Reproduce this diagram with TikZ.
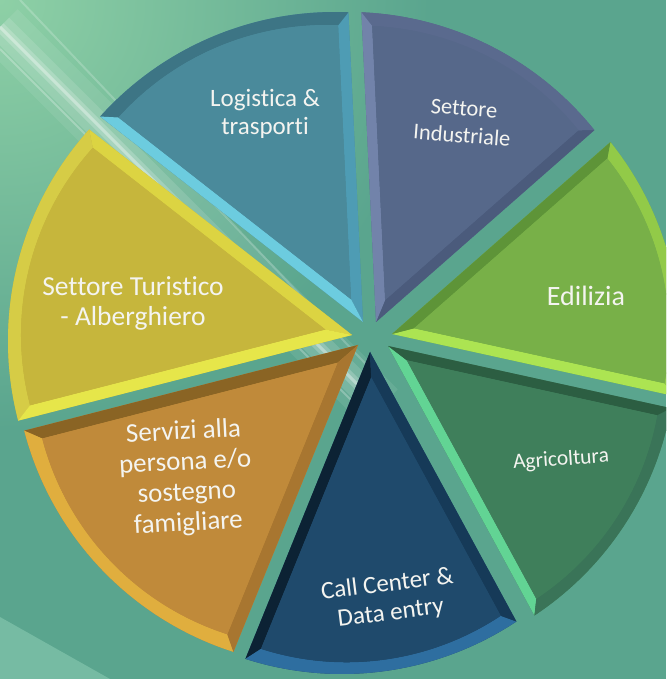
\documentclass[tikz,border=0pt]{standalone}
\usepackage{fontspec}
\setmainfont{Carlito}[Ligatures={NoCommon}]
\usetikzlibrary{calc}
\definecolor{bgbase}{HTML}{5AA58E}
\definecolor{bglight}{HTML}{8ED0A6}
\definecolor{bgcorner}{HTML}{76BBA3}
\definecolor{indface}{HTML}{56688A}
\definecolor{indA}{HTML}{4B5B7C}
\definecolor{indArc}{HTML}{5A6A8E}
\definecolor{indB}{HTML}{7283AA}
\definecolor{logface}{HTML}{4A8A9B}
\definecolor{logA}{HTML}{4E9CB4}
\definecolor{logArc}{HTML}{3D7585}
\definecolor{logB}{HTML}{6CCCDF}
\definecolor{turface}{HTML}{C6B63C}
\definecolor{turA}{HTML}{DCD442}
\definecolor{turArc}{HTML}{D6CC46}
\definecolor{turB}{HTML}{E6E64A}
\definecolor{serface}{HTML}{C08A3A}
\definecolor{serA}{HTML}{8A6424}
\definecolor{serArc}{HTML}{E0AE3E}
\definecolor{serB}{HTML}{A87630}
\definecolor{calface}{HTML}{1F4A6C}
\definecolor{calA}{HTML}{0C2234}
\definecolor{calArc}{HTML}{2E6EA0}
\definecolor{calB}{HTML}{163A58}
\definecolor{agrface}{HTML}{3F7F5B}
\definecolor{agrA}{HTML}{62D494}
\definecolor{agrArc}{HTML}{3A7458}
\definecolor{agrB}{HTML}{2C5E42}
\definecolor{ediface}{HTML}{78B048}
\definecolor{ediA}{HTML}{ACE452}
\definecolor{ediArc}{HTML}{92CA48}
\definecolor{ediB}{HTML}{5E9438}
\definecolor{txt}{HTML}{F4F4F0}
\def\R{316}
\def\s{0.885}
% #1 offx, #2 offy, #3 start angle, #4 end angle, #5 face, #6 edge at start, #7 arc, #8 edge at end
\newcommand\pieslice[8]{%
  \coordinate (A) at ($(H)+(#1,#2)$);
  \coordinate (O) at ($(Cc)+(#1,#2)$);
  \coordinate (P1) at ($(O)+(#3:\R pt)$);
  \coordinate (P2) at ($(O)+(#4:\R pt)$);
  \coordinate (Q) at ($(O)+({(#3+#4)/2}:\R pt)$);
  \coordinate (M) at ($(A)!0.69!(Q)$);
  \coordinate (Ai) at ($(M)!\s!(A)$);
  \coordinate (P1i) at ($(M)!\s!(P1)$);
  \coordinate (P2i) at ($(M)!\s!(P2)$);
  \fill[#5] (A) -- (P1) arc[start angle=#3, end angle=#4, radius=\R pt] -- cycle;
  \fill[#6] (A) -- (P1) -- (P1i) -- (Ai) -- cycle;
  \fill[#7] (P1) arc[start angle=#3, end angle=#4, radius=\R pt] -- (P2i) arc[start angle=#4, end angle=#3, radius=\s*\R pt] -- cycle;
  \fill[#8] (P2) -- (A) -- (Ai) -- (P2i) -- cycle;
  \fill[#5] (Ai) -- (P1i) arc[start angle=#3, end angle=#4, radius=\s*\R pt] -- cycle;
}
\begin{document}
\begin{tikzpicture}[x=1pt,y=1pt,
  lbl/.style={text=txt, align=center, inner sep=0pt}]
\useasboundingbox (0,0) rectangle (666,679);
\clip (0,0) rectangle (666,679);
% background
\fill[bgbase] (0,0) rectangle (666,679);
\shade[inner color=bglight, outer color=bgbase] (0,679) circle[radius=430pt];
\fill[bgcorner] (0,0) -- (0,62) -- (110,0) -- cycle;
\foreach \w/\o in {50/0.08, 26/0.12, 10/0.2, 3/0.35}{
  \draw[white, line width=\w pt, opacity=\o] (0,652) -- (380,272);
}
\draw[white, line width=2pt, opacity=0.25] (0,630) -- (360,270);
\draw[white, line width=2pt, opacity=0.2] (20,679) -- (380,300);
% pie
\coordinate (H) at (372,342);
\coordinate (Cc) at (344,336);
\pieslice{4}{15}{38.77}{87.57}{indface}{indA}{indArc}{indB}
\pieslice{-9}{15}{87.57}{138.0}{logface}{logA}{logArc}{logB}
\pieslice{-20}{2}{138.0}{194.6}{turface}{turA}{turArc}{turB}
\pieslice{-14}{-8}{194.6}{252.2}{serface}{serA}{serArc}{serB}
\pieslice{-2}{-15}{252.2}{303.5}{calface}{calA}{calArc}{calB}
\pieslice{16}{-9}{303.5}{349.76}{agrface}{agrA}{agrArc}{agrB}
\pieslice{20}{3}{349.76}{398.77}{ediface}{ediA}{ediArc}{ediB}
% labels
\node[lbl, font=\fontsize{25}{28}\selectfont] (tlog) at (265,565) {Logistica \&\\trasporti};
\node[lbl, font=\fontsize{22.5}{27}\selectfont, rotate=-4.5] (tind) at (463,557) {Settore\\Industriale};
\node[lbl, font=\fontsize{28}{30}\selectfont] (tedi) at (586,383) {Edilizia};
\node[lbl, font=\fontsize{21.5}{26}\selectfont, rotate=4] (tagr) at (561,219) {Agricoltura};
\node[lbl, font=\fontsize{25}{29}\selectfont, rotate=7] (tcal) at (389,80) {Call Center \&\\Data entry};
\node[lbl, font=\fontsize{27}{30.5}\selectfont, rotate=3] (tser) at (186,201) {Servizi alla\\persona e/o\\sostegno\\famigliare};
\node[lbl, font=\fontsize{27.5}{30}\selectfont] (ttur) at (133,376) {Settore Turistico\\- Alberghiero};
\end{tikzpicture}
\end{document}
